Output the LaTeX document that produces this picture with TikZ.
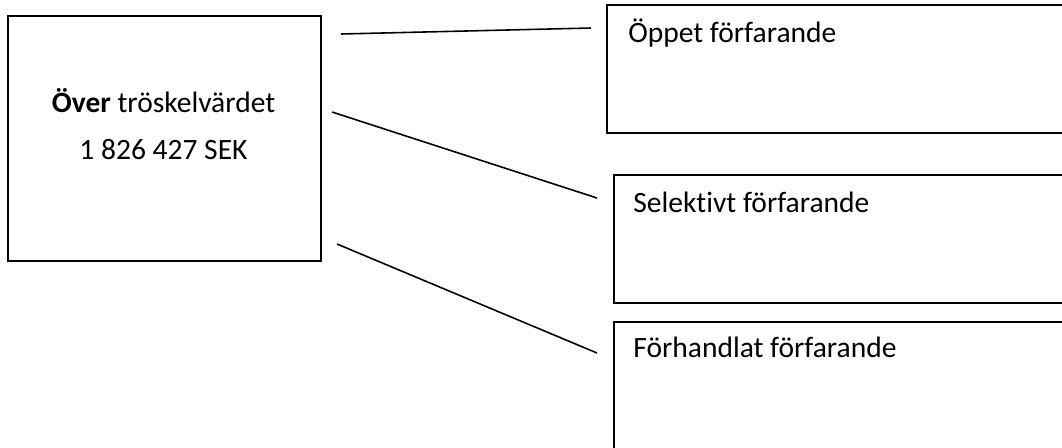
\documentclass[tikz,border=0pt]{standalone}
\usepackage{fontspec}
\setmainfont{Carlito}[Ligatures=NoCommon]
\usepackage{tikz}
\usetikzlibrary{positioning}

\begin{document}
\begin{tikzpicture}[x=0.02cm, y=-0.02cm,
        box/.style={draw, line width=0.9pt, rectangle, inner sep=0pt},
        boxtext/.style={inner sep=0pt, font=\fontsize{16.8}{27}\selectfont},
        link/.style={line width=0.9pt}]
        \useasboundingbox (0,0) rectangle (1062,447);
        
        % vanster ruta
        \node[box, anchor=north west, minimum width=6.26cm, minimum height=4.9cm] (over) at (7,15) {};
        \node[boxtext, align=center] (overtext) at (163.5,124) {\textbf{Över} tröskelvärdet\\1 826 427 SEK};
        
        % hoger rutor
        \node[box, anchor=north west, minimum width=10cm, minimum height=2.56cm] (oppet) at (606,4) {};
        \node[box, anchor=north west, minimum width=10cm, minimum height=2.56cm] (selektivt) at (613,174) {};
        \node[box, anchor=north west, minimum width=10cm, minimum height=3cm] (forhandlat) at (613,321) {};
        
        \node[boxtext, anchor=base west] (oppettext) at (628,42) {Öppet förfarande};
        \node[boxtext, anchor=base west] (selektivttext) at (633,212) {Selektivt förfarande};
        \node[boxtext, anchor=base west] (forhandlattext) at (633,357) {Förhandlat förfarande};
        
        % linjer
        \coordinate (a1) at (341,34);
        \coordinate (b1) at (591,28);
        \coordinate (a2) at (332,112);
        \coordinate (b2) at (597,198);
        \coordinate (a3) at (337,244);
        \coordinate (b3) at (597,353);
        \draw[link] (a1) -- (b1);
        \draw[link] (a2) -- (b2);
        \draw[link] (a3) -- (b3);
    \end{tikzpicture}
\end{document}
